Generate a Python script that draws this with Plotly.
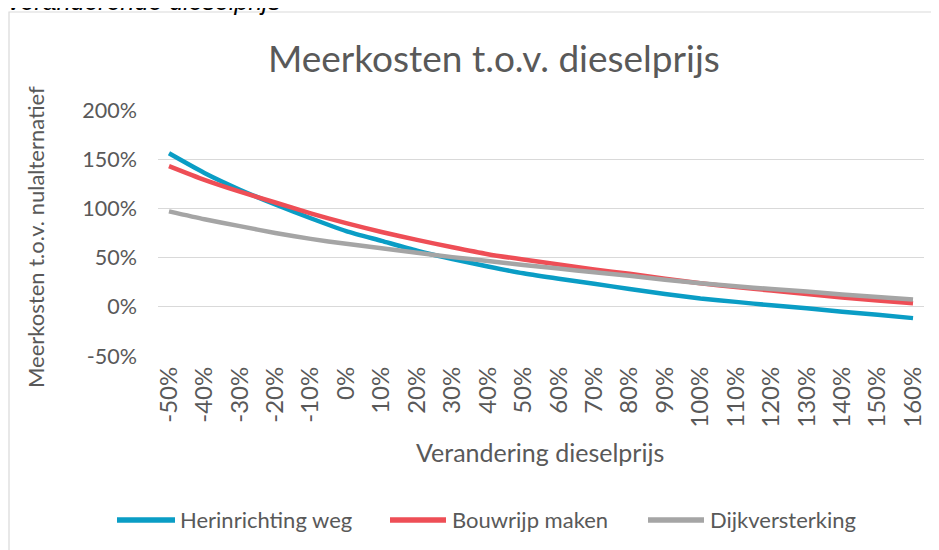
import plotly.graph_objects as go

# ---- data ----
categories = ["-50%", "-40%", "-30%", "-20%", "-10%", "0%", "10%", "20%", "30%", "40%", "50%",
              "60%", "70%", "80%", "90%", "100%", "110%", "120%", "130%", "140%", "150%", "160%"]
herinrichting_weg = [156, 136, 119, 104, 90, 77, 67, 57, 48.5, 41, 34, 28.5, 23.5, 18, 13, 8.5,
                     5, 1.5, -1.5, -5, -8, -11.5]
bouwrijp_maken = [143, 129, 117, 106, 95, 85, 76, 68, 60.5, 53.5, 48, 43, 38, 33.5, 28.5, 24,
                  20, 16.5, 13, 9.5, 6.5, 3.5]
dijkversterking = [97, 89, 82, 75, 69, 64, 59.5, 55, 50.5, 46.5, 42.5, 39, 35, 31.5, 27.5, 24,
                   21, 18, 15.5, 12.5, 10, 7.5]
series_names = ["Herinrichting weg", "Bouwrijp maken", "Dijkversterking"]
y_ticks = [-50, 0, 50, 100, 150, 200]
y_ticklabels = ["-50%", "0%", "50%", "100%", "150%", "200%"]

colors = ["#0A9DC5", "#EE4E56", "#A5A5A5"]
OFF = 8                      # page body margin
W, H = 939 - OFF, 550 - OFF
# plot area in page pixels
PL, PR, PT, PB = 158, 924, 110, 356
L, R, T, B = PL - OFF, PR - OFF, PT - OFF, PB - OFF
FONT = "Lato"
TXT = "#595959"

def px(x):  # page pixel -> paper x
    return (x - PL) / (PR - PL)

def py(y):  # page pixel -> paper y
    return (PB - y) / (PB - PT)

fig = go.Figure()
for name, vals, c in zip(series_names, [herinrichting_weg, bouwrijp_maken, dijkversterking], colors):
    fig.add_trace(go.Scatter(x=categories, y=vals, name=name, mode="lines", showlegend=False,
                             line=dict(color=c, width=4.5, shape="spline", smoothing=0.6)))

annotations = [
    dict(text="Meerkosten t.o.v. dieselprijs", x=px(494), y=py(57), xref="paper", yref="paper",
         showarrow=False, font=dict(family=FONT, size=37, color=TXT), xanchor="center", yanchor="middle"),
    dict(text="Meerkosten t.o.v. nulalternatief", x=px(35), y=py(237), xref="paper", yref="paper",
         showarrow=False, textangle=-90, font=dict(family=FONT, size=22, color=TXT),
         xanchor="center", yanchor="middle"),
    dict(text="Verandering dieselprijs", x=px(540), y=py(452), xref="paper", yref="paper",
         showarrow=False, font=dict(family=FONT, size=25, color=TXT), xanchor="center", yanchor="middle"),
    dict(text="<i>veranderende dieselprijs</i>", x=px(6), y=py(1.5), xref="paper", yref="paper",
         showarrow=False, font=dict(family="Liberation Sans", size=25, color="#000000"),
         xanchor="left", yanchor="middle"),
]
shapes = [
    dict(type="rect", xref="paper", yref="paper", x0=px(9), x1=px(937), y0=py(570), y1=py(12),
         line=dict(color="#D9D9D9", width=1.2), fillcolor="rgba(0,0,0,0)", layer="below"),
]
# custom legend (long line samples like the original)
legend_lines = [(117, 175), (390, 446), (648, 704)]
legend_text_x = [178, 450, 708]
LEG_Y = 520
for (x0, x1), tx, name, c in zip(legend_lines, legend_text_x, series_names, colors):
    shapes.append(dict(type="line", xref="paper", yref="paper", x0=px(x0), x1=px(x1),
                       y0=py(LEG_Y), y1=py(LEG_Y), line=dict(color=c, width=5.5)))
    annotations.append(dict(text=name, x=px(tx), y=py(LEG_Y), xref="paper", yref="paper",
                            showarrow=False, font=dict(family=FONT, size=22, color=TXT),
                            xanchor="left", yanchor="middle"))

fig.update_layout(
    width=W, height=H,
    margin=dict(l=L, r=W - R, t=T, b=H - B, pad=0),
    paper_bgcolor="white", plot_bgcolor="white",
    font=dict(family=FONT, color=TXT, size=21),
    showlegend=False,
    xaxis=dict(type="category", range=[-0.31, 21.31], tickangle=-90, showgrid=False,
               showline=False, zeroline=False, ticks="", ticklabelstandoff=5,
               tickfont=dict(family=FONT, size=24, color=TXT)),
    yaxis=dict(range=[-50, 200], tickvals=y_ticks, ticktext=y_ticklabels, showgrid=True,
               gridcolor="#D9D9D9", gridwidth=1.3, zeroline=False, showline=False, ticks="",
               ticklabelstandoff=20, tickfont=dict(family=FONT, size=21.5, color=TXT)),
    annotations=annotations,
    shapes=shapes,
)

fig.write_html("out.html")
